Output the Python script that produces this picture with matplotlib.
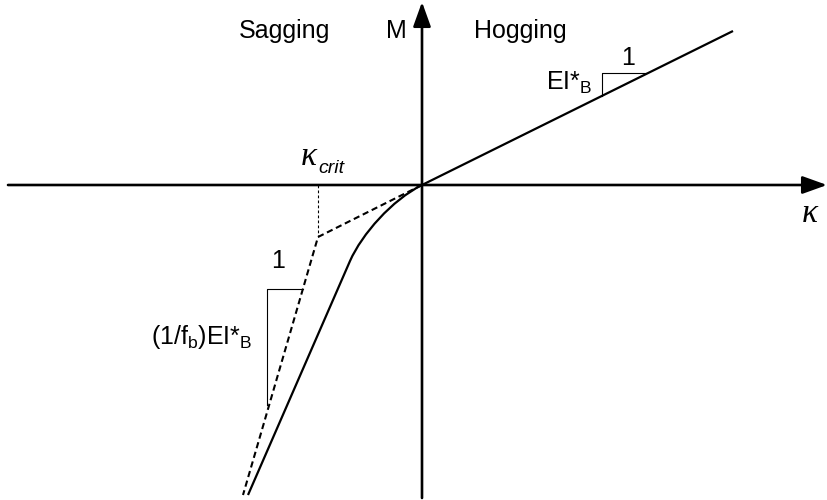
import matplotlib
matplotlib.use("Agg")
import matplotlib.pyplot as plt
from matplotlib.path import Path
from matplotlib.patches import PathPatch

plt.rcParams.update({
    "font.family": ["Liberation Sans", "DejaVu Sans"],
    "mathtext.fontset": "custom",
    "mathtext.rm": "Liberation Sans",
    "mathtext.it": "Liberation Sans:italic",
})

# moment-curvature schematic, origin at (0, 0), curvature to the right, moment up
hog_k = [0, 311]
hog_m = [0, 154]

# bilinear idealisation on the sagging side (EI*_B, then EI*_B / f_b)
sag_lin_k = [0, -104, -179]
sag_lin_m = [0, -52, -310]

# actual sagging response: smooth knee then straight branch
sag_knee_k = [0, -30, -60, -72]
sag_knee_m = [0, -15, -49, -76]
sag_end_k = -174
sag_end_m = -310

# slope triangles
hog_tri_k = [180, 180, 224]
hog_tri_m = [89, 112, 112]
sag_tri_k = [-155, -155, -119]
sag_tri_m = [-220, -104, -104]

fig = plt.figure(figsize=(8.27, 5.0), dpi=100)
ax = fig.add_axes([0, 0, 1, 1])
ax.set_xlim(-422, 405)
ax.set_ylim(-315, 185)
ax.axis("off")

arrow = dict(arrowstyle="-|>,head_length=1.0,head_width=0.36", mutation_scale=15,
             lw=1.9, color="black", shrinkA=0, shrinkB=0)
ax.annotate("", xy=(405, 0), xytext=(-414, 0), arrowprops=arrow,
            annotation_clip=False)
ax.annotate("", xy=(0, 183), xytext=(0, -313), arrowprops=arrow,
            annotation_clip=False)

ax.plot(hog_k, hog_m, color="black", lw=1.6, solid_capstyle="butt")

ax.plot(sag_lin_k, sag_lin_m, color="black", lw=1.5, dashes=(3.0, 1.8))
ax.plot([sag_lin_k[1], sag_lin_k[1]], [0, sag_lin_m[1]], color="black", lw=0.8,
        dashes=(2.5, 2.0))

verts = list(zip(sag_knee_k, sag_knee_m)) + [(sag_end_k, sag_end_m)]
codes = [Path.MOVETO, Path.CURVE4, Path.CURVE4, Path.CURVE4, Path.LINETO]
ax.add_patch(PathPatch(Path(verts, codes), fill=False, lw=1.6, edgecolor="black"))

ax.plot(hog_tri_k, hog_tri_m, color="black", lw=0.8)
ax.plot(sag_tri_k, sag_tri_m, color="black", lw=0.8)

fs = 18
ax.text(-137, 147, "Sagging", fontsize=fs, ha="center", va="baseline")
ax.text(-26, 147, "M", fontsize=fs, ha="center", va="baseline")
ax.text(98, 147, "Hogging", fontsize=fs, ha="center", va="baseline")

ax.text(206, 120, "1", fontsize=fs, ha="center", va="baseline")
ax.text(124, 95, r"EI*$_\mathrm{B}$", fontsize=fs, ha="left", va="baseline")

ax.text(-144, -83, "1", fontsize=fs, ha="center", va="baseline")
ax.text(-170, -159, r"(1/f$_\mathrm{b}$)EI*$_\mathrm{B}$", fontsize=fs, ha="right",
        va="baseline")

ax.text(388, -37, "\u03ba", fontsize=24, ha="center", va="baseline",
        family="Liberation Serif", style="italic")
ax.text(-113, 20, "\u03ba", fontsize=24, ha="center", va="baseline",
        family="Liberation Serif", style="italic")
ax.text(-104, 12, "crit", fontsize=14, ha="left", va="baseline", style="italic")

fig.savefig("out.png", dpi=100)
